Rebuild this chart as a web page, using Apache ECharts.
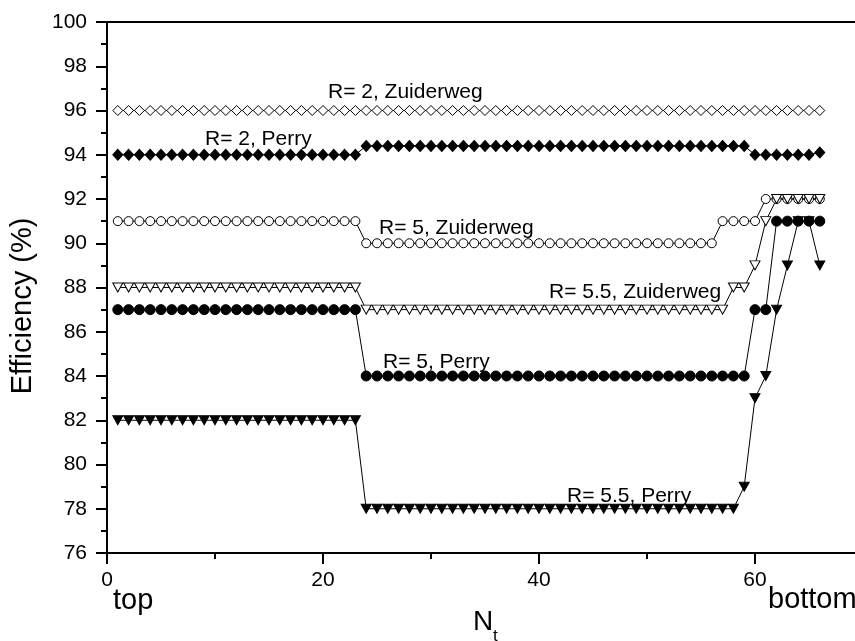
<!DOCTYPE html>
<html>
<head>
<meta charset="utf-8">
<script src="https://cdn.jsdelivr.net/npm/echarts@6/dist/echarts.min.js"></script>
<style>
html,body{margin:0;padding:0;background:#fff;}
#chart{width:855px;height:641px;}
</style>
</head>
<body>
<div id="chart"></div>
<script>
// Stage number N_t
const nt = [1,2,3,4,5,6,7,8,9,10,11,12,13,14,15,16,17,18,19,20,21,22,23,24,25,26,27,28,29,30,31,32,33,
            34,35,36,37,38,39,40,41,42,43,44,45,46,47,48,49,50,51,52,53,54,55,56,57,58,59,60,61,62,63,64,65,66];

const r2Zuiderweg = [
  96,96,96,96,96,96,96,96,96,96,96,
  96,96,96,96,96,96,96,96,96,96,96,
  96,96,96,96,96,96,96,96,96,96,96,
  96,96,96,96,96,96,96,96,96,96,96,
  96,96,96,96,96,96,96,96,96,96,96,
  96,96,96,96,96,96,96,96,96,96,96
];
const r2Perry = [
  94,94,94,94,94,94,94,94,94,94,94,
  94,94,94,94,94,94,94,94,94,94,94,
  94,94.4,94.4,94.4,94.4,94.4,94.4,94.4,94.4,94.4,94.4,
  94.4,94.4,94.4,94.4,94.4,94.4,94.4,94.4,94.4,94.4,94.4,
  94.4,94.4,94.4,94.4,94.4,94.4,94.4,94.4,94.4,94.4,94.4,
  94.4,94.4,94.4,94.4,94,94,94,94,94,94,94.1
];
const r5Zuiderweg = [
  91,91,91,91,91,91,91,91,91,91,91,
  91,91,91,91,91,91,91,91,91,91,91,
  91,90,90,90,90,90,90,90,90,90,90,
  90,90,90,90,90,90,90,90,90,90,90,
  90,90,90,90,90,90,90,90,90,90,90,
  90,91,91,91,91,92,92,92,92,92,92
];
const r5Perry = [
  87,87,87,87,87,87,87,87,87,87,87,
  87,87,87,87,87,87,87,87,87,87,87,
  87,84,84,84,84,84,84,84,84,84,84,
  84,84,84,84,84,84,84,84,84,84,84,
  84,84,84,84,84,84,84,84,84,84,84,
  84,84,84,84,87,87,91,91,91,91,91
];
const r55Zuiderweg = [
  88,88,88,88,88,88,88,88,88,88,88,
  88,88,88,88,88,88,88,88,88,88,88,
  88,87,87,87,87,87,87,87,87,87,87,
  87,87,87,87,87,87,87,87,87,87,87,
  87,87,87,87,87,87,87,87,87,87,87,
  87,87,88,88,89,91,92,92,92,92,92
];
const r55Perry = [
  82,82,82,82,82,82,82,82,82,82,82,
  82,82,82,82,82,82,82,82,82,82,82,
  82,78,78,78,78,78,78,78,78,78,78,
  78,78,78,78,78,78,78,78,78,78,78,
  78,78,78,78,78,78,78,78,78,78,78,
  78,78,78,79,83,84,87,89,91,91,89
];

const yTicks = [76,78,80,82,84,86,88,90,92,94,96,98,100];
const xTicks = [0,20,40,60];
const xMinorTicks = [10,30,50];

const seriesNames = ['R= 2, Zuiderweg','R= 2, Perry','R= 5, Zuiderweg','R= 5, Perry','R= 5.5, Zuiderweg','R= 5.5, Perry'];

const FONT = "'Liberation Sans', Arial, sans-serif";
const X_MIN = 0, X_MAX = 69.26; // visible part of the axis (it continues past the picture edge)

function pairs(vals){ return nt.map((x,i)=>[x, vals[i]]); }

function mkSeries(name, vals, symbol, size, filled, rotate){
  return {
    type:'line', name:name, data:pairs(vals), xAxisIndex:0,
    symbol:symbol, symbolSize:size, symbolRotate:rotate||0, showSymbol:true,
    lineStyle:{color:'#000', width:1},
    itemStyle:{color: filled ? '#000' : '#fff', borderColor:'#000', borderWidth:1, opacity:1},
    emphasis:{disabled:true}, animation:false, silent:true
  };
}

const chart = echarts.init(document.getElementById('chart'), null, {renderer:'canvas'});

function txt(text, x, y, size, opts){
  return Object.assign({
    type:'text', x:x, y:y, silent:true, z:100,
    style:{text:text, fill:'#000', font: size + 'px ' + FONT, textAlign:'left', textVerticalAlign:'middle'}
  }, opts||{});
}

chart.setOption({
  animation:false,
  backgroundColor:'#fff',
  grid:{left:107, top:22, right:0, height:531, containLabel:false, show:false},
  xAxis:[{
    type:'value', min:X_MIN, max:X_MAX,
    axisLine:{show:true, onZero:false, lineStyle:{color:'#000', width:2}},
    axisTick:{show:true, inside:false, length:11, customValues:xTicks, lineStyle:{color:'#000', width:2}},
    minorTick:{show:false},
    splitLine:{show:false},
    axisLabel:{show:true, color:'#000', fontSize:21, fontFamily:FONT, margin:17, customValues:xTicks}
  },{
    type:'value', min:X_MIN, max:X_MAX, position:'bottom',
    axisLine:{show:false, onZero:false},
    axisTick:{show:true, inside:false, length:6, customValues:xMinorTicks, lineStyle:{color:'#000', width:2}},
    axisLabel:{show:false}, splitLine:{show:false}
  },{
    type:'value', min:X_MIN, max:X_MAX, position:'top',
    axisLine:{show:true, onZero:false, lineStyle:{color:'#000', width:2}},
    axisTick:{show:false}, axisLabel:{show:false}, splitLine:{show:false}
  }],
  yAxis:{
    type:'value', min:76, max:100, interval:2,
    axisLine:{show:true, onZero:false, lineStyle:{color:'#000', width:2}},
    axisTick:{show:true, inside:false, length:11, lineStyle:{color:'#000', width:2}},
    minorTick:{show:true, splitNumber:2, length:6, lineStyle:{color:'#000', width:2}},
    splitLine:{show:false},
    axisLabel:{show:true, color:'#000', fontSize:21, fontFamily:FONT, margin:20,
      formatter:function(v){ return yTicks.indexOf(v) >= 0 ? String(v) : ''; }}
  },
  series:[
    mkSeries(seriesNames[0], r2Zuiderweg, 'diamond', [10,10], false),
    mkSeries(seriesNames[1], r2Perry, 'diamond', [10,11], true),
    mkSeries(seriesNames[2], r5Zuiderweg, 'circle', 9, false),
    mkSeries(seriesNames[3], r5Perry, 'circle', 10, true),
    mkSeries(seriesNames[4], r55Zuiderweg, 'triangle', [10,9], false, 180),
    mkSeries(seriesNames[5], r55Perry, 'triangle', [10,9], true, 180)
  ],
  graphic:[
    txt(seriesNames[0], 328, 92, 21),
    txt(seriesNames[1], 205, 139, 21),
    txt(seriesNames[2], 379, 228, 21),
    txt(seriesNames[4], 549, 292, 21),
    txt(seriesNames[3], 383, 362, 21),
    txt(seriesNames[5], 567, 496, 21),
    txt('top', 113, 601, 29),
    txt('bottom', 768, 600, 29),
    txt('N', 473, 622, 28),
    txt('t', 493, 636, 17),
    {type:'text', x:23, y:306, rotation:Math.PI/2, silent:true, z:100,
     style:{text:'Efficiency (%)', fill:'#000', font:'29px ' + FONT, textAlign:'center', textVerticalAlign:'middle'}}
  ]
});
</script>
</body>
</html>
